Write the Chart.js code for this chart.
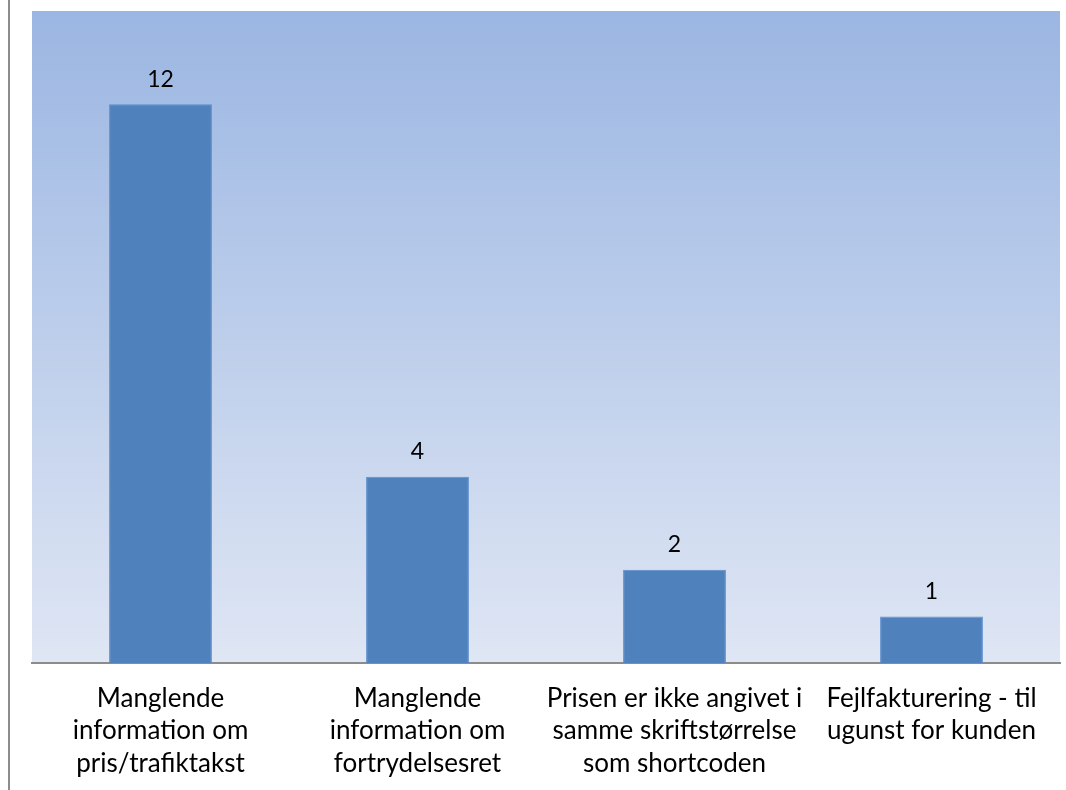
<!DOCTYPE html>
<html>
<head>
<meta charset="utf-8">
<script src="https://cdn.jsdelivr.net/npm/chart.js@4/dist/chart.umd.min.js"></script>
<style>
  html, body { margin: 0; padding: 0; background: #fff; }
  canvas { display: block; }
</style>
</head>
<body>
<canvas id="chart" width="1066" height="790"></canvas>
<script>
const categories = [
  ["Manglende", "information om", "pris/trafiktakst"],
  ["Manglende", "information om", "fortrydelsesret"],
  ["Prisen er ikke angivet i", "samme skriftstørrelse", "som shortcoden"],
  ["Fejlfakturering - til", "ugunst for kunden"]
];
const counts = [12, 4, 2, 1];

const FONT = "Lato, 'Open Sans', sans-serif";

// gradient plot background + left rule
const backdrop = {
  id: "backdrop",
  beforeDraw(chart) {
    const { ctx, chartArea: a } = chart;
    ctx.save();
    const g = ctx.createLinearGradient(0, a.top, 0, a.bottom);
    g.addColorStop(0, "#9bb6e2");
    g.addColorStop(1, "#dfe6f4");
    ctx.fillStyle = g;
    ctx.fillRect(a.left, a.top, a.right - a.left, a.bottom - a.top);
    ctx.strokeStyle = "#8c8c8c";
    ctx.lineWidth = 2;
    ctx.beginPath();
    ctx.moveTo(9, 0);
    ctx.lineTo(9, chart.height);
    ctx.stroke();
    ctx.restore();
  }
};

// value labels above bars
const valueLabels = {
  id: "valueLabels",
  afterDatasetsDraw(chart) {
    const { ctx } = chart;
    const meta = chart.getDatasetMeta(0);
    ctx.save();
    ctx.fillStyle = "#000";
    ctx.font = "23px " + FONT;
    ctx.textAlign = "center";
    ctx.textBaseline = "middle";
    meta.data.forEach((bar, i) => {
      ctx.fillText(String(counts[i]), bar.x, bar.y - 25);
    });
    ctx.restore();
  }
};

new Chart(document.getElementById("chart"), {
  type: "bar",
  data: {
    labels: categories,
    datasets: [{
      data: counts,
      backgroundColor: "#4f81bd",
      borderColor: "#5b8ccb",
      borderWidth: 1,
      barPercentage: 0.4,
      categoryPercentage: 1
    }]
  },
  options: {
    responsive: false,
    animation: false,
    devicePixelRatio: 1,
    layout: { padding: { left: 32, right: 6, top: 11, bottom: 0 } },
    plugins: { legend: { display: false }, tooltip: { enabled: false } },
    scales: {
      x: {
        grid: { display: false },
        border: { display: true, color: "#8c8c8c", width: 2 },
        ticks: {
          color: "#000",
          font: { family: FONT, size: 26, lineHeight: 1.25 },
          padding: 11,
          maxRotation: 0,
          autoSkip: false
        },
        afterFit(s) { s.height = 127; }
      },
      y: {
        display: false,
        min: 0,
        max: 14
      }
    }
  },
  plugins: [backdrop, valueLabels]
});
</script>
</body>
</html>
